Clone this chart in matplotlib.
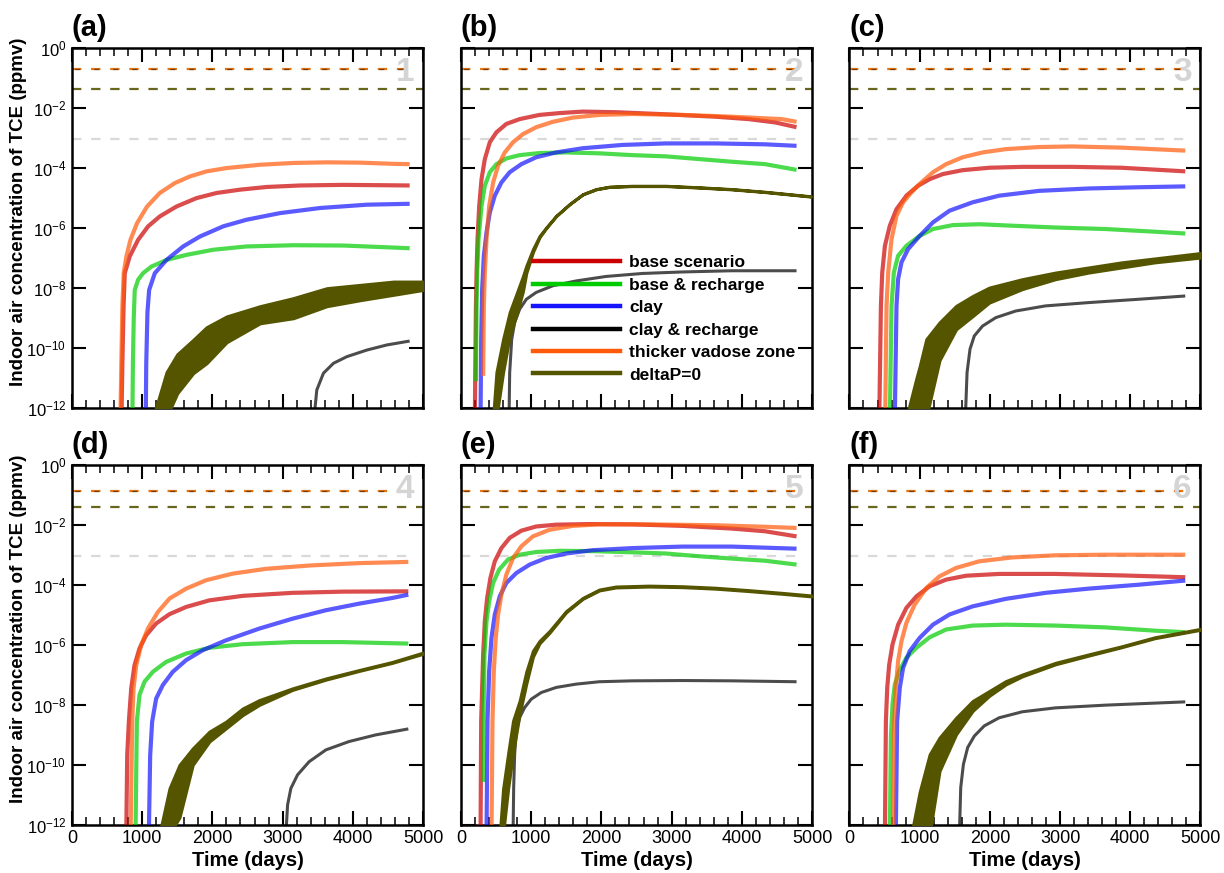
import numpy as np
import matplotlib
matplotlib.use('Agg')
import matplotlib.pyplot as plt
from matplotlib.lines import Line2D
from matplotlib.ticker import MultipleLocator, FixedLocator, NullLocator

plt.rcParams['font.family'] = 'Liberation Sans'
plt.rcParams['mathtext.fontset'] = 'custom'
plt.rcParams['mathtext.rm'] = 'Liberation Sans'
plt.rcParams['mathtext.it'] = 'Liberation Sans:italic'
plt.rcParams['mathtext.bf'] = 'Liberation Sans:bold'

#------------------DATA (time in days, log10 of ppmv)------------------#
labels = ['base scenario', 'base & recharge', 'clay', 'clay & recharge',
          'thicker vadose zone', 'deltaP=0']
colors = ['#cc0000', '#00cc00', '#1414ff', '#000000', '#ff5a0a', '#555500']
panel_tags = ['(a)', '(b)', '(c)', '(d)', '(e)', '(f)']
panel_nums = ['1', '2', '3', '4', '5', '6']

# screening levels per row: upper, lower, indoor reference
limits_top = [0.2, 0.043, 9e-4]
limits_bottom = [0.137, 0.04, 9e-4]

#PANEL A
a_base_t = [705, 718, 735, 752, 823, 942, 1085, 1251, 1489, 1775, 2060, 2393, 2774, 3249, 3868, 4810]
a_base_c = [-12.3, -10.5, -8.6, -7.5, -6.94, -6.39, -5.94, -5.61, -5.28, -5.0, -4.83, -4.72, -4.63, -4.58, -4.56, -4.58]
a_rech_t = [861, 868, 880, 894, 942, 1013, 1132, 1346, 1632, 2012, 2488, 3154, 3868, 4810]
a_rech_c = [-12.3, -10.5, -9.0, -8.06, -7.72, -7.5, -7.28, -7.06, -6.89, -6.72, -6.61, -6.57, -6.58, -6.67]
a_clay_t = [1051, 1058, 1075, 1099, 1180, 1346, 1584, 1822, 2155, 2488, 2964, 3535, 4201, 4810]
a_clay_c = [-12.3, -10.5, -8.8, -8.06, -7.5, -7.06, -6.61, -6.28, -5.94, -5.72, -5.5, -5.33, -5.22, -5.19]
a_clrech_t = [3449, 3487, 3582, 3725, 3915, 4201, 4486, 4810]
a_clrech_c = [-12.3, -11.39, -10.83, -10.5, -10.28, -10.06, -9.89, -9.76]
a_vad_t = [690, 703, 718, 737, 775, 833, 928, 1070, 1251, 1465, 1679, 1917, 2203, 2678, 3154, 3630, 4106, 4581, 4810]
a_vad_c = [-12.3, -10.5, -8.6, -7.5, -6.94, -6.39, -5.83, -5.28, -4.83, -4.5, -4.28, -4.11, -4.0, -3.89, -3.83, -3.81, -3.82, -3.86, -3.87]
a_dp_t = [1156, 1346, 1500, 1727, 1917, 2203, 2678, 3154, 3630, 4106, 4581, 5000]
a_dp_hi = [-12.3, -10.8, -10.2, -9.72, -9.3, -8.94, -8.6, -8.33, -8.0, -7.89, -7.78, -7.78]
a_dp_lo = [-12.3, -12.3, -11.5, -10.83, -10.5, -9.8, -9.17, -9.0, -8.6, -8.4, -8.22, -8.06]

#PANEL B
b_base_t = [198, 205, 213, 222, 236, 260, 293, 340, 411, 505, 647, 836, 1120, 1403, 1734, 2206, 2914, 3623, 4095, 4473, 4780]
b_base_c = [-12.3, -10.5, -8.6, -7.48, -6.37, -5.26, -4.37, -3.7, -3.14, -2.81, -2.53, -2.37, -2.23, -2.17, -2.12, -2.14, -2.21, -2.29, -2.37, -2.48, -2.64]
b_rech_t = [213, 222, 231, 250, 293, 340, 411, 505, 647, 836, 1120, 1497, 1970, 2442, 2914, 3387, 3859, 4332, 4780]
b_rech_c = [-11.1, -8.6, -7.48, -6.37, -5.26, -4.59, -4.14, -3.87, -3.68, -3.57, -3.5, -3.48, -3.51, -3.57, -3.61, -3.7, -3.79, -3.87, -4.06]
b_clay_t = [279, 288, 302, 326, 364, 411, 482, 576, 694, 860, 1072, 1356, 1734, 2300, 2914, 3623, 4332, 4780]
b_clay_c = [-12.3, -9.7, -8.03, -6.92, -6.14, -5.48, -4.92, -4.48, -4.14, -3.87, -3.64, -3.48, -3.34, -3.23, -3.18, -3.18, -3.21, -3.26]
b_clrech_t = [685, 694, 723, 765, 836, 931, 1072, 1308, 1639, 2064, 2584, 3150, 3859, 4780]
b_clrech_c = [-12.3, -10.81, -9.7, -9.14, -8.7, -8.37, -8.14, -7.92, -7.76, -7.61, -7.51, -7.46, -7.42, -7.42]
b_vad_t = [316, 326, 340, 364, 402, 458, 529, 624, 742, 883, 1072, 1308, 1592, 1970, 2442, 3150, 3859, 4568, 4780]
b_vad_c = [-10.92, -8.6, -7.48, -6.37, -5.26, -4.48, -3.92, -3.48, -3.14, -2.87, -2.64, -2.46, -2.32, -2.23, -2.2, -2.23, -2.29, -2.37, -2.46]
b_dp_t = [458, 505, 600, 694, 789, 883, 930, 1025, 1120, 1214, 1356, 1545, 1734, 1923, 2112, 2442, 2914, 3387, 3859, 4332, 4984]
b_dp_hi = [-12.3, -10.8, -9.7, -8.8, -8.2, -7.6, -7.26, -6.7, -6.26, -5.98, -5.59, -5.2, -4.87, -4.7, -4.62, -4.59, -4.59, -4.64, -4.7, -4.79, -4.94]
b_dp_lo = [-12.3, -12.3, -10.8, -9.6, -8.9, -8.1, -7.5, -6.8, -6.3, -6.0, -5.6, -5.21, -4.88, -4.71, -4.63, -4.6, -4.6, -4.65, -4.71, -4.8, -4.95]

#PANEL C
c_base_t = [425, 448, 467, 505, 575, 670, 811, 976, 1142, 1330, 1613, 1991, 2462, 3170, 3877, 4783]
c_base_c = [-12.3, -8.59, -7.48, -6.59, -5.92, -5.37, -4.92, -4.59, -4.37, -4.2, -4.07, -3.99, -3.96, -3.96, -3.99, -4.11]
c_rech_t = [575, 599, 632, 693, 811, 1000, 1189, 1472, 1849, 2321, 2934, 3642, 4349, 4783]
c_rech_c = [-12.3, -8.59, -7.48, -6.92, -6.59, -6.26, -6.03, -5.9, -5.87, -5.92, -5.98, -6.03, -6.12, -6.18]
c_clay_t = [646, 670, 693, 741, 835, 1000, 1189, 1425, 1755, 2132, 2698, 3406, 4113, 4783]
c_clay_c = [-12.3, -8.59, -7.7, -7.14, -6.7, -6.26, -5.81, -5.42, -5.14, -4.92, -4.76, -4.68, -4.64, -4.61]
c_clrech_t = [1651, 1675, 1717, 1778, 1896, 2085, 2368, 2792, 3406, 4113, 4783]
c_clrech_c = [-12.3, -10.81, -10.03, -9.59, -9.26, -8.98, -8.76, -8.59, -8.48, -8.37, -8.26]
c_vad_t = [509, 528, 552, 599, 670, 764, 882, 1024, 1189, 1377, 1613, 1896, 2226, 2698, 3170, 3877, 4783]
c_vad_c = [-12.3, -8.59, -7.48, -6.37, -5.59, -5.14, -4.81, -4.48, -4.14, -3.87, -3.64, -3.48, -3.37, -3.3, -3.28, -3.32, -3.42]
c_dp_t = [811, 953, 1000, 1094, 1283, 1519, 1755, 1991, 2462, 2934, 3406, 3877, 4349, 5000]
c_dp_hi = [-12.3, -11.0, -10.6, -9.7, -9.14, -8.59, -8.26, -7.98, -7.7, -7.48, -7.31, -7.14, -7.01, -6.83]
c_dp_lo = [-12.3, -12.3, -12.3, -12.3, -10.4, -9.37, -8.93, -8.48, -8.03, -7.7, -7.48, -7.31, -7.14, -6.98]

#PANEL D
d_base_t = [773, 787, 810, 844, 891, 962, 1057, 1199, 1389, 1626, 1957, 2431, 3142, 3853, 4791]
d_base_c = [-12.3, -9.67, -8.56, -7.45, -6.68, -6.12, -5.68, -5.29, -4.98, -4.74, -4.52, -4.37, -4.27, -4.23, -4.22]
d_rech_t = [905, 924, 962, 1033, 1152, 1341, 1626, 1957, 2431, 3142, 3853, 4791]
d_rech_c = [-12.3, -8.56, -7.67, -7.23, -6.9, -6.57, -6.29, -6.1, -5.98, -5.91, -5.91, -5.96]
d_clay_t = [1095, 1114, 1142, 1199, 1294, 1436, 1626, 1863, 2194, 2668, 3142, 3616, 4090, 4564, 4791]
d_clay_c = [-12.3, -9.67, -8.56, -7.79, -7.34, -6.9, -6.51, -6.18, -5.85, -5.46, -5.13, -4.85, -4.63, -4.44, -4.33]
d_clrech_t = [3047, 3071, 3118, 3213, 3379, 3616, 3948, 4327, 4791]
d_clrech_c = [-12.3, -11.33, -10.78, -10.33, -9.89, -9.5, -9.22, -9.0, -8.8]
d_vad_t = [835, 858, 877, 915, 986, 1081, 1223, 1389, 1626, 1910, 2289, 2763, 3379, 4090, 4791]
d_vad_c = [-12.3, -8.56, -7.45, -6.68, -6.01, -5.46, -4.91, -4.46, -4.13, -3.85, -3.63, -3.47, -3.36, -3.28, -3.24]
d_dp_t = [1246, 1389, 1531, 1720, 1957, 2194, 2431, 2668, 3142, 3616, 4090, 4564, 5000]
d_dp_hi = [-12.3, -10.78, -10.0, -9.45, -8.89, -8.56, -8.12, -7.84, -7.45, -7.12, -6.84, -6.57, -6.26]
d_dp_lo = [-12.3, -12.3, -11.75, -10.0, -9.22, -8.78, -8.34, -8.0, -7.5, -7.16, -6.87, -6.6, -6.3]

#PANEL E
e_base_t = [279, 288, 302, 316, 340, 373, 420, 482, 576, 694, 860, 1072, 1356, 1828, 2442, 3150, 3859, 4332, 4780]
e_base_c = [-12.3, -8.53, -7.42, -6.32, -5.21, -4.44, -3.77, -3.22, -2.78, -2.44, -2.2, -2.06, -2.0, -1.98, -1.99, -2.04, -2.13, -2.22, -2.39]
e_rech_t = [316, 321, 335, 364, 402, 458, 543, 671, 836, 1072, 1403, 1875, 2442, 2914, 3387, 3859, 4332, 4780]
e_rech_c = [-10.57, -8.53, -6.32, -5.21, -4.55, -3.94, -3.5, -3.16, -3.0, -2.91, -2.87, -2.88, -2.92, -2.96, -3.05, -3.13, -3.2, -3.33]
e_clay_t = [364, 378, 402, 435, 482, 553, 647, 789, 978, 1214, 1497, 1875, 2442, 3150, 3859, 4780]
e_clay_c = [-12.3, -8.53, -6.87, -5.76, -4.99, -4.38, -3.94, -3.61, -3.33, -3.11, -2.96, -2.85, -2.78, -2.73, -2.73, -2.8]
e_clrech_t = [742, 751, 765, 789, 836, 907, 1001, 1143, 1356, 1639, 1970, 2442, 3150, 3859, 4780]
e_clrech_c = [-12.3, -10.74, -9.63, -8.86, -8.42, -8.09, -7.81, -7.59, -7.42, -7.31, -7.23, -7.2, -7.19, -7.2, -7.23]
e_vad_t = [435, 449, 468, 496, 529, 576, 647, 742, 860, 1025, 1261, 1592, 1970, 2678, 3623, 4332, 4780]
e_vad_c = [-12.3, -8.53, -6.87, -5.76, -4.99, -4.33, -3.66, -3.11, -2.72, -2.39, -2.17, -2.04, -1.99, -1.99, -2.02, -2.07, -2.11]
e_dp_t = [553, 600, 671, 742, 836, 930, 1025, 1119, 1261, 1497, 1734, 1970, 2206, 2678, 3150, 3623, 4095, 4568, 5000]
e_dp_hi = [-12.3, -10.8, -9.63, -8.53, -7.86, -6.9, -6.2, -5.87, -5.54, -4.88, -4.44, -4.16, -4.06, -4.03, -4.05, -4.1, -4.18, -4.27, -4.36]
e_dp_lo = [-12.3, -12.3, -10.8, -9.6, -8.3, -7.3, -6.4, -5.95, -5.6, -4.92, -4.47, -4.19, -4.09, -4.06, -4.08, -4.13, -4.21, -4.3, -4.39]

#PANEL F
f_base_t = [505, 519, 538, 566, 613, 693, 811, 953, 1142, 1377, 1660, 2132, 2934, 3877, 4783]
f_base_c = [-12.3, -8.54, -7.43, -6.66, -5.99, -5.33, -4.77, -4.39, -4.05, -3.83, -3.7, -3.64, -3.64, -3.69, -3.75]
f_rech_t = [575, 590, 613, 646, 708, 811, 953, 1142, 1377, 1755, 2226, 2934, 3642, 4349, 4783]
f_rech_c = [-12.3, -9.09, -7.98, -7.32, -6.88, -6.43, -6.1, -5.75, -5.49, -5.36, -5.33, -5.36, -5.42, -5.53, -5.58]
f_clay_t = [660, 679, 717, 764, 858, 1000, 1189, 1425, 1755, 2226, 2792, 3406, 4113, 4783]
f_clay_c = [-12.3, -8.54, -7.43, -6.77, -6.21, -5.77, -5.33, -4.99, -4.72, -4.47, -4.27, -4.13, -4.0, -3.86]
f_clrech_t = [1566, 1585, 1623, 1684, 1778, 1920, 2132, 2462, 2934, 3642, 4783]
f_clrech_c = [-12.3, -10.75, -9.98, -9.42, -9.04, -8.7, -8.43, -8.23, -8.1, -8.01, -7.9]
f_vad_t = [623, 637, 660, 693, 741, 811, 929, 1094, 1283, 1519, 1849, 2321, 2934, 3642, 4783]
f_vad_c = [-12.3, -8.54, -7.43, -6.54, -5.88, -5.27, -4.66, -4.11, -3.72, -3.44, -3.22, -3.09, -3.02, -3.0, -3.0]
f_dp_t = [882, 1000, 1142, 1283, 1519, 1755, 1991, 2226, 2462, 2934, 3406, 3877, 4349, 5000]
f_dp_hi = [-12.3, -10.9, -9.65, -9.09, -8.43, -7.87, -7.54, -7.21, -6.99, -6.6, -6.32, -6.05, -5.75, -5.47]
f_dp_lo = [-12.3, -12.3, -12.3, -10.2, -8.98, -8.2, -7.7, -7.32, -7.05, -6.65, -6.36, -6.08, -5.78, -5.5]

panels = [
    ([(a_base_t, a_base_c), (a_rech_t, a_rech_c), (a_clay_t, a_clay_c),
      (a_clrech_t, a_clrech_c), (a_vad_t, a_vad_c)], (a_dp_t, a_dp_lo, a_dp_hi)),
    ([(b_base_t, b_base_c), (b_rech_t, b_rech_c), (b_clay_t, b_clay_c),
      (b_clrech_t, b_clrech_c), (b_vad_t, b_vad_c)], (b_dp_t, b_dp_lo, b_dp_hi)),
    ([(c_base_t, c_base_c), (c_rech_t, c_rech_c), (c_clay_t, c_clay_c),
      (c_clrech_t, c_clrech_c), (c_vad_t, c_vad_c)], (c_dp_t, c_dp_lo, c_dp_hi)),
    ([(d_base_t, d_base_c), (d_rech_t, d_rech_c), (d_clay_t, d_clay_c),
      (d_clrech_t, d_clrech_c), (d_vad_t, d_vad_c)], (d_dp_t, d_dp_lo, d_dp_hi)),
    ([(e_base_t, e_base_c), (e_rech_t, e_rech_c), (e_clay_t, e_clay_c),
      (e_clrech_t, e_clrech_c), (e_vad_t, e_vad_c)], (e_dp_t, e_dp_lo, e_dp_hi)),
    ([(f_base_t, f_base_c), (f_rech_t, f_rech_c), (f_clay_t, f_clay_c),
      (f_clrech_t, f_clrech_c), (f_vad_t, f_vad_c)], (f_dp_t, f_dp_lo, f_dp_hi)),
]


def limit_lines(ax, levels):
    upper, lower, ref = levels
    dash = (4.2, 4.4)
    ax.plot([0, 4800], [upper, upper], color='#e8720c', lw=1.6, dashes=dash, zorder=1)
    ax.plot([0, 4800], [upper, upper], color='#3a2a10', lw=0.9, alpha=0.7,
            linestyle=(13.0, (4.0, 11.2)), zorder=1)
    ax.plot([0, 5000], [lower, lower], color='#66661c', lw=1.6, dashes=dash, zorder=1)
    ax.plot([0, 4800], [ref, ref], color='#d9d9d9', lw=1.6, dashes=dash, zorder=1)


def draw_panel(ax, curves, dp, levels, tag, num):
    limit_lines(ax, levels)
    for (t, c), col in zip(curves, colors[:5]):
        width = 2.2 if col == '#000000' else 3.0
        ax.plot(t, 10.0 ** np.array(c), color=col, lw=width, alpha=0.7,
                solid_capstyle='butt', solid_joinstyle='round', zorder=3)
    t, lo, hi = dp
    ax.fill_between(t, 10.0 ** np.array(lo), 10.0 ** np.array(hi),
                    color=colors[5], lw=2.2, zorder=4)

    ax.set_yscale('log')
    ax.set_xlim(0, 5000)
    ax.set_ylim(1e-12, 1e0)
    ax.xaxis.set_major_locator(MultipleLocator(1000))
    ax.xaxis.set_minor_locator(MultipleLocator(200))
    ax.yaxis.set_major_locator(FixedLocator([10.0 ** k for k in range(-12, 1, 2)]))
    ax.yaxis.set_minor_locator(NullLocator())
    ax.tick_params(which='both', direction='in', top=True, right=True)
    ax.tick_params(axis='x', labelsize=13)
    ax.tick_params(axis='y', labelsize=12, pad=4)
    ax.tick_params(which='major', length=10, width=1.5)
    ax.tick_params(which='minor', length=5.5, width=1.1)
    for sp in ax.spines.values():
        sp.set_linewidth(1.8)

    ax.text(0.0, 1.016, tag, transform=ax.transAxes, fontsize=21,
            fontweight='bold', ha='left', va='bottom')
    ax.text(0.975, 0.975, num, transform=ax.transAxes, fontsize=24,
            fontweight='bold', color='#d4d4d4', ha='right', va='top', zorder=5)


#------------------FIGURE------------------#
fig = plt.figure(figsize=(12.24, 8.73), dpi=100)
lefts = [0.0588, 0.3766, 0.694]
bottoms = [0.5323, 0.055]
w, h = 0.2868, 0.4128

axes = []
for r in range(2):
    for col in range(3):
        ax = fig.add_axes([lefts[col], bottoms[r], w, h])
        axes.append(ax)

for i, ax in enumerate(axes):
    curves, dp = panels[i]
    levels = limits_top if i < 3 else limits_bottom
    draw_panel(ax, curves, dp, levels, panel_tags[i], panel_nums[i])

    if i % 3 == 0:
        ax.set_yticklabels(['$10^{%d}$' % k for k in range(-12, 1, 2)])
        ax.set_ylabel('Indoor air concentration of TCE (ppmv)', fontsize=13.5,
                      fontweight='bold')
        ax.yaxis.set_label_coords(-0.128, 0.545)
    else:
        ax.set_yticklabels([])
    if i >= 3:
        ax.set_xlabel('Time (days)', fontsize=14.5, fontweight='bold')
        ax.xaxis.set_label_coords(0.5, -0.072)
    else:
        ax.set_xticklabels([])

#LEGEND IN PANEL B
handles = [Line2D([], [], color=c, lw=3.2) for c in colors]
axes[1].legend(handles, labels, loc='upper left', bbox_to_anchor=(0.205, 0.425),
               frameon=False, prop={'weight': 'bold', 'size': 12.5},
               handlelength=5.0, handletextpad=0.55, labelspacing=0.42,
               borderpad=0, borderaxespad=0)

fig.savefig('out.png', dpi=100)
